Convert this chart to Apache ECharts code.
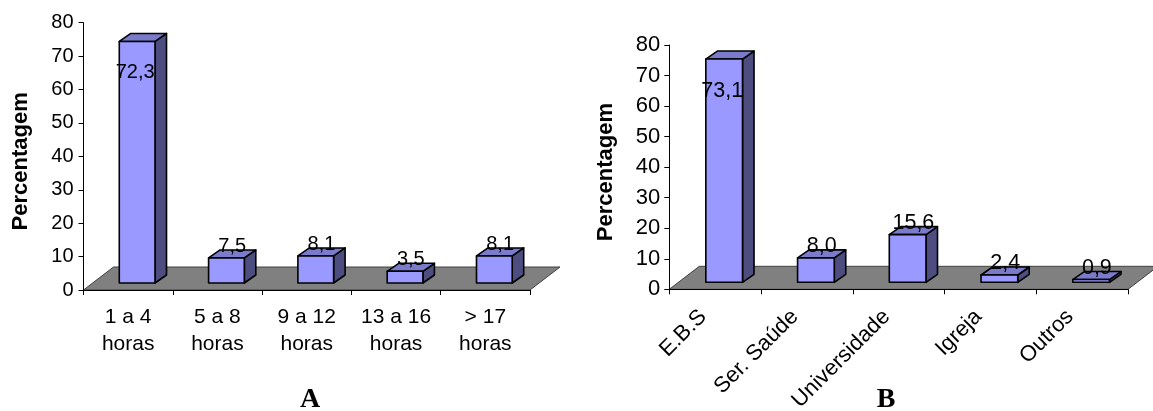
<!DOCTYPE html>
<html>
<head>
<meta charset="utf-8">
<script src="https://cdn.jsdelivr.net/npm/echarts@6/dist/echarts.min.js"></script>
<style>
  html, body { margin: 0; padding: 0; background: #ffffff; }
  #chart { width: 1153px; height: 411px; }
</style>
</head>
<body>
<div id="chart"></div>
<script>
// Panel A: hours per week
const hoursCategories = ['1 a 4\nhoras', '5 a 8\nhoras', '9 a 12\nhoras', '13 a 16\nhoras', '> 17\nhoras'];
const hoursValues = [72.3, 7.5, 8.1, 3.5, 8.1];

// Panel B: source
const sourceCategories = ['E.B.S', 'Ser. Saúde', 'Universidade', 'Igreja', 'Outros'];
const sourceValues = [73.1, 8.0, 15.6, 2.4, 0.9];

// Shared value axis ticks
const percentTicks = [0, 10, 20, 30, 40, 50, 60, 70, 80];
const axisTitle = 'Percentagem';
const panelLetters = ['A', 'B'];

// 3D look: floor depth, bar inset from the front plane, bar depth (pixels)
const FLOOR_DX = 30, FLOOR_DY = -23;
const INSET_DX = 9, INSET_DY = -7;
const DEPTH_DX = 11.5, DEPTH_DY = -8;
const BAR_RATIO = 0.4;
const LABEL_CEIL = 65; // labels of very tall columns stay below this value

const FONT = 'Liberation Sans, Arial, sans-serif';
const FRONT = '#9999ff', TOP = '#7b7bcc', SIDE = '#4d4d80';

function fmt(v) { return v.toFixed(1).replace('.', ','); }

function makeFloor(count) {
  return function (params, api) {
    const band = api.size([1, 0])[0];
    const p0 = api.coord([0, 0]);
    const x0 = p0[0] - band / 2, y0 = p0[1];
    const x1 = x0 + band * count;
    return {
      type: 'polygon',
      shape: { points: [[x0, y0], [x1, y0], [x1 + FLOOR_DX, y0 + FLOOR_DY], [x0 + FLOOR_DX, y0 + FLOOR_DY]] },
      style: { fill: '#808080', stroke: '#404040', lineWidth: 1 }
    };
  };
}

function makeBars(labelSize) {
  return function (params, api) {
    const i = api.value(0), v = api.value(1);
    const band = api.size([1, 0])[0];
    const w = band * BAR_RATIO;
    const top = api.coord([i, v]);
    const base = api.coord([i, 0]);
    const xl = top[0] - w / 2 + INSET_DX, xr = xl + w;
    const yt = top[1] + INSET_DY, yb = base[1] + INSET_DY;
    const edge = { stroke: '#000', lineWidth: 1.6, lineJoin: 'round' };

    let ly = yt + DEPTH_DY - 3.5;
    let lx = (xl + xr) / 2 + DEPTH_DX / 2;
    const ceil = api.coord([i, LABEL_CEIL])[1];
    if (ly < ceil) { ly = ceil; lx = (xl + xr) / 2 - 2; }

    return {
      type: 'group',
      children: [
        { type: 'polygon', shape: { points: [[xr, yt], [xr + DEPTH_DX, yt + DEPTH_DY], [xr + DEPTH_DX, yb + DEPTH_DY], [xr, yb]] },
          style: Object.assign({ fill: SIDE }, edge) },
        { type: 'polygon', shape: { points: [[xl, yt], [xr, yt], [xr + DEPTH_DX, yt + DEPTH_DY], [xl + DEPTH_DX, yt + DEPTH_DY]] },
          style: Object.assign({ fill: TOP }, edge) },
        { type: 'rect', shape: { x: xl, y: yt, width: w, height: yb - yt },
          style: Object.assign({ fill: FRONT }, edge) },
        { type: 'text', x: lx, y: ly,
          style: { text: fmt(v), fill: '#000', font: labelSize + 'px ' + FONT, align: 'center', verticalAlign: 'middle' } }
      ]
    };
  };
}

function yAxisFor(gridIndex, size, margin) {
  return {
    type: 'value', gridIndex: gridIndex,
    min: percentTicks[0], max: percentTicks[percentTicks.length - 1],
    interval: percentTicks[1] - percentTicks[0],
    name: axisTitle, nameLocation: 'middle', nameRotate: 90, nameGap: 52,
    nameTextStyle: { fontFamily: FONT, fontWeight: 'bold', fontSize: 22, color: '#000', padding: [0, 10, 0, 0] },
    axisLine: { show: true, lineStyle: { color: '#000', width: 1 } },
    axisTick: { show: true, length: 5, lineStyle: { color: '#000' } },
    axisLabel: { fontFamily: FONT, fontSize: size, color: '#000', margin: margin },
    splitLine: { show: false },
    z: 3
  };
}

const letterStyle = { fontFamily: 'Liberation Serif, Times New Roman, serif', fontWeight: 'bold', fontSize: 28, color: '#000' };

const chart = echarts.init(document.getElementById('chart'), null, { renderer: 'canvas' });
chart.setOption({
  animation: false,
  backgroundColor: '#ffffff',
  title: [
    { text: panelLetters[0], left: 305, top: 381, textAlign: 'center', textStyle: letterStyle },
    { text: panelLetters[1], left: 881, top: 381, textAlign: 'center', textStyle: letterStyle }
  ],
  grid: [
    { left: 83.5, top: 22.7, width: 446.5, height: 267.3, containLabel: false, outerBoundsMode: 'none' },
    { left: 669.3, top: 45, width: 458.7, height: 244.3, containLabel: false, outerBoundsMode: 'none' }
  ],
  xAxis: [
    { type: 'category', gridIndex: 0, data: hoursCategories, boundaryGap: true,
      axisLine: { lineStyle: { color: '#000', width: 1 } },
      axisTick: { show: true, length: 5, alignWithLabel: false, lineStyle: { color: '#000' } },
      axisLabel: { fontFamily: FONT, fontSize: 21, color: '#000', margin: 14, lineHeight: 27, interval: 0 },
      z: 3 },
    { type: 'category', gridIndex: 1, data: sourceCategories, boundaryGap: true,
      axisLine: { lineStyle: { color: '#000', width: 1 } },
      axisTick: { show: true, length: 5, alignWithLabel: false, lineStyle: { color: '#000' } },
      axisLabel: { fontFamily: FONT, fontSize: 22, color: '#000', margin: 12, rotate: 45, interval: 0, padding: [0, 17, 0, 0] },
      z: 3 }
  ],
  yAxis: [yAxisFor(0, 20, 10), yAxisFor(1, 22, 9)],
  series: [
    { type: 'custom', xAxisIndex: 0, yAxisIndex: 0, data: [[0, 0]], renderItem: makeFloor(hoursCategories.length), silent: true, z: 1 },
    { type: 'custom', xAxisIndex: 0, yAxisIndex: 0, data: hoursValues.map((v, i) => [i, v]),
      encode: { x: 0, y: 1 }, renderItem: makeBars(20), z: 2 },
    { type: 'custom', xAxisIndex: 1, yAxisIndex: 1, data: [[0, 0]], renderItem: makeFloor(sourceCategories.length), silent: true, z: 1 },
    { type: 'custom', xAxisIndex: 1, yAxisIndex: 1, data: sourceValues.map((v, i) => [i, v]),
      encode: { x: 0, y: 1 }, renderItem: makeBars(21.5), z: 2 }
  ]
});
</script>
</body>
</html>
